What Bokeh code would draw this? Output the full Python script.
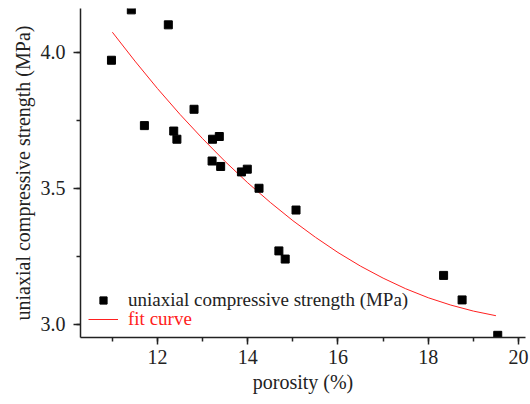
from bokeh.plotting import figure
from bokeh.models import (Range1d, SingleIntervalTicker, PrintfTickFormatter,
                          Legend, LegendItem)
from bokeh.embed import file_html
from bokeh.resources import INLINE

# measured points: porosity (%) vs UCS (MPa)
porosity = [10.98, 11.42, 12.24, 11.71, 12.36, 12.43, 12.81, 13.22, 13.37, 13.21,
            13.40, 13.86, 13.99, 14.25, 15.07, 14.69, 14.83, 18.34, 18.75, 19.54]
ucs = [3.97, 4.155, 4.10, 3.73, 3.71, 3.68, 3.79, 3.68, 3.69, 3.60,
       3.58, 3.56, 3.57, 3.50, 3.42, 3.27, 3.24, 3.18, 3.09, 2.96]

# fit curve
fit_x = [11.0, 11.5, 12.0, 12.5, 13.0, 13.5, 14.0, 14.5, 15.0, 15.5,
         16.0, 16.5, 17.0, 17.5, 18.0, 18.5, 19.0, 19.5]
fit_y = [4.073, 3.967, 3.866, 3.771, 3.682, 3.598, 3.520, 3.448, 3.381, 3.320,
         3.264, 3.214, 3.170, 3.131, 3.098, 3.071, 3.049, 3.032]

FONT = "Liberation Serif"

p = figure(width=530, height=404, output_backend="svg", toolbar_location=None,
           x_range=Range1d(10.294, 20.155), y_range=Range1d(2.952, 4.160),
           min_border_left=80, min_border_right=5, min_border_top=8,
           min_border_bottom=67)
p.outline_line_color = None
p.xgrid.visible = False
p.ygrid.visible = False
p.background_fill_color = "white"
p.border_fill_color = "white"

line = p.line(fit_x, fit_y, line_color="#ff2020", line_width=1)
pts = p.scatter(porosity, ucs, marker="square", size=8, color="black")

for ax in (p.xaxis[0], p.yaxis[0]):
    ax.axis_line_color = "#222222"
    ax.axis_line_width = 1.5
    ax.major_tick_line_color = "#222222"
    ax.minor_tick_line_color = "#222222"
    ax.major_tick_line_width = 1.5
    ax.minor_tick_line_width = 1.5
    ax.major_tick_in = 0
    ax.major_tick_out = 7
    ax.minor_tick_in = 0
    ax.minor_tick_out = 4
    ax.major_label_text_font = FONT
    ax.major_label_text_font_size = "20px"
    ax.major_label_text_color = "#222222"
    ax.axis_label_text_font = FONT
    ax.axis_label_text_font_size = "20px"
    ax.axis_label_text_font_style = "normal"
    ax.axis_label_text_color = "#222222"

p.xaxis[0].ticker = SingleIntervalTicker(interval=2, num_minor_ticks=2)
p.xaxis[0].formatter = PrintfTickFormatter(format="%d")
p.xaxis[0].axis_label = "porosity (%)"
p.xaxis[0].major_label_standoff = 5
p.xaxis[0].axis_label_standoff = 4

p.yaxis[0].ticker = SingleIntervalTicker(interval=0.5, num_minor_ticks=2)
p.yaxis[0].formatter = PrintfTickFormatter(format="%.1f")
p.yaxis[0].axis_label = "uniaxial compressive strength (MPa)"
p.yaxis[0].major_label_standoff = 8
p.yaxis[0].axis_label_standoff = 4

def make_legend(item, color, loc):
    lg = Legend(items=[item], location=loc, padding=0, margin=0, spacing=0,
                glyph_width=30, glyph_height=18, label_height=18,
                label_standoff=10, background_fill_alpha=0,
                border_line_color=None, label_text_font=FONT,
                label_text_font_size="19px", label_text_color=color)
    return lg

lg1 = make_legend(LegendItem(label="uniaxial compressive strength (MPa)", renderers=[pts]),
                  "#222222", (8, 26))
lg2 = make_legend(LegendItem(label="fit curve", renderers=[line]),
                  "#ff2020", (8, 7))
p.add_layout(lg1, "center")
p.add_layout(lg2, "center")

open("out.html", "w").write(file_html(p, INLINE))
